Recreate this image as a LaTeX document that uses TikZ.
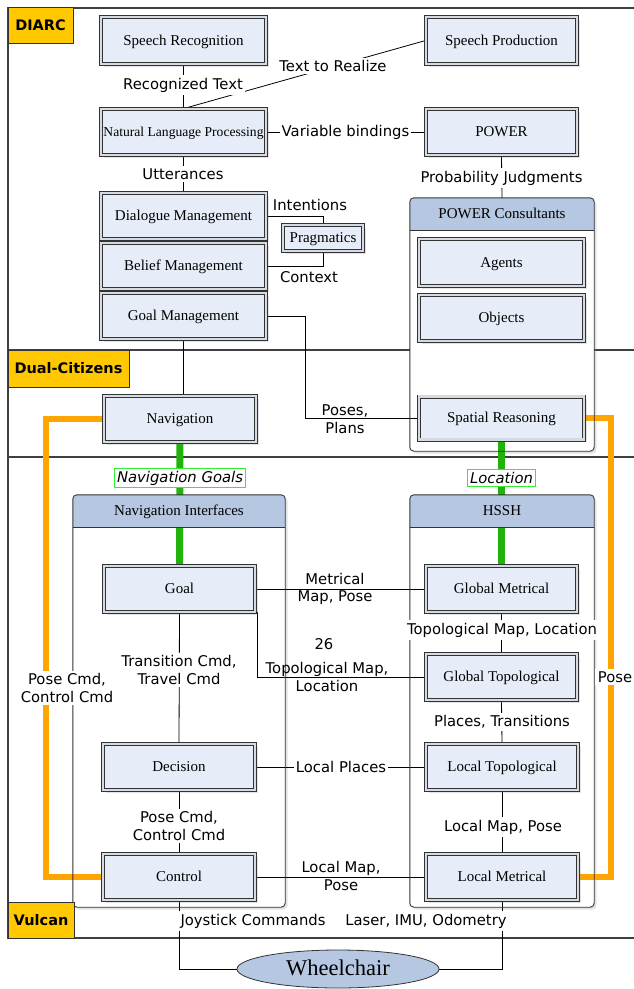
\documentclass[tikz,border=0pt]{standalone}
\usepackage{fontspec}
\setmainfont{Liberation Serif}
\newfontfamily\labfont{DejaVu Sans}
\usetikzlibrary{shadows,calc,shapes.geometric}
\definecolor{nodefill}{HTML}{E7EDF8}
\definecolor{gapcol}{HTML}{D6DAE2}
\definecolor{edgecol}{HTML}{333333}
\definecolor{hdrfill}{HTML}{B6C7E1}
\definecolor{yel}{HTML}{FFC800}
\definecolor{orng}{HTML}{FFA500}
\definecolor{grn}{HTML}{22B20C}
\definecolor{lgrn}{HTML}{33EE33}
\definecolor{framecol}{HTML}{404040}
\pgfdeclarelayer{bg}\pgfdeclarelayer{groups}\pgfdeclarelayer{edges}
\pgfsetlayers{bg,groups,edges,main}
\begin{document}
\begin{tikzpicture}[x=1pt,y=-1pt,
  mod/.style={draw=edgecol, line width=0.8pt, double=gapcol, double distance=2.4pt,
    fill=nodefill, inner sep=0pt, align=center, font=\fontsize{15}{17}\selectfont,
    text height=10.5pt, text depth=1.5pt,
    drop shadow={opacity=0.22, shadow xshift=2.5pt, shadow yshift=-2.5pt}},
  wa/.style={minimum width=165pt},
  wb/.style={minimum width=151pt},
  wc/.style={minimum width=152pt},
  ha/.style={minimum height=46pt},
  groupbody/.style={fill=white, inner sep=0pt, rounded corners=4pt,
    drop shadow={opacity=0.22, shadow xshift=2.5pt, shadow yshift=-2.5pt}},
  groupline/.style={draw=edgecol, line width=0.9pt},
  hdrtext/.style={font=\fontsize{15}{17}\selectfont, inner sep=0pt, text height=10.5pt, text depth=1.5pt},
  conn/.style={draw=black, line width=0.8pt},
  greenl/.style={draw=grn, line width=7pt},
  orangel/.style={draw=orng, line width=6pt},
  framel/.style={draw=framecol, line width=1.2pt},
  lab/.style={font=\labfont\fontsize{14.8}{17.5}\selectfont, inner sep=2.5pt, align=center},
  wlab/.style={lab, fill=white},
  glab/.style={lab, font=\labfont\itshape\fontsize{14.8}{17.5}\selectfont, draw=lgrn, line width=1pt, fill=white, inner sep=2.5pt},
  ylab/.style={draw=edgecol, line width=0.8pt, fill=yel, inner sep=0pt,
    font=\labfont\bfseries\fontsize{14.5}{17}\selectfont}
]
\useasboundingbox (0,0) rectangle (634,989);

% ---------- frame ----------
\begin{pgfonlayer}{bg}
  \draw[framel] (634,8) -- (8,8) -- (8,938) -- (634,938);
  \draw[framel] (8,350) -- (634,350);
  \draw[framel] (8,457) -- (634,457);
\end{pgfonlayer}

% ---------- group bodies ----------
\begin{pgfonlayer}{groups}
  \node[groupbody, minimum width=184pt, minimum height=253pt] (pc) at (502,324.5) {};
  \node[groupbody, minimum width=212pt, minimum height=412pt] (ni) at (179,701) {};
  \node[groupbody, minimum width=184pt, minimum height=412pt] (hs) at (502,701) {};
\end{pgfonlayer}

% headers
\fill[hdrfill, rounded corners=4pt] (410,198) rectangle (594,230);
\fill[hdrfill] (410,206) rectangle (594,230);
\fill[hdrfill, rounded corners=4pt] (73,495) rectangle (285,527);
\fill[hdrfill] (73,503) rectangle (285,527);
\fill[hdrfill, rounded corners=4pt] (410,495) rectangle (594,527);
\fill[hdrfill] (410,503) rectangle (594,527);
\draw[groupline, rounded corners=4pt] (pc.north west) rectangle (pc.south east);
\draw[groupline, rounded corners=4pt] (ni.north west) rectangle (ni.south east);
\draw[groupline, rounded corners=4pt] (hs.north west) rectangle (hs.south east);
\draw[groupline] (410,230) -- (594,230);
\draw[groupline] (73,527) -- (285,527);
\draw[groupline] (410,527) -- (594,527);
\node[hdrtext] (pchdr) at (502,214) {POWER Consultants};
\node[hdrtext] (nihdr) at (179,511) {Navigation Interfaces};
\node[hdrtext] (hshdr) at (502,511) {HSSH};

% ---------- modules ----------
\node[mod, wa, minimum height=47pt] (srec) at (183.5,40.5) {Speech Recognition};
\node[mod, wb, minimum height=47pt] (sprod) at (501.5,40.5) {Speech Production};
\node[mod, wa, ha, font=\fontsize{13.6}{16}\selectfont] (nlp) at (183.5,132) {Natural Language Processing};
\node[mod, wb, ha] (power) at (501.5,132) {POWER};
\node[mod, wa, ha] (dm) at (183.5,216) {Dialogue Management};
\node[mod, wa, ha] (bm) at (183.5,266) {Belief Management};
\node[mod, wa, ha] (gmg) at (183.5,316) {Goal Management};
\node[mod, minimum width=80pt, minimum height=26pt] (prag) at (323,238) {Pragmatics};
\node[mod, wa, minimum height=47pt] (agents) at (501.5,262.5) {Agents};
\node[mod, wa, ha] (objects) at (501.5,318) {Objects};
\node[mod, wa, minimum height=43pt] (sr) at (501.5,418) {Spatial Reasoning};
\node[mod, wc, ha] (nav) at (180,419) {Navigation};
\node[mod, wb, ha] (goal) at (179.5,589) {Goal};
\node[mod, wb, ha] (gm) at (501.5,589) {Global Metrical};
\node[mod, wb, ha] (gt) at (501.5,677) {Global Topological};
\node[mod, wc, ha] (dec) at (179,767) {Decision};
\node[mod, wc, ha] (lt) at (502,767) {Local Topological};
\node[mod, wc, ha] (ctrl) at (179,877) {Control};
\node[mod, wc, ha] (lm) at (502,877) {Local Metrical};
\node[ellipse, draw=edgecol, line width=0.8pt, fill=hdrfill, minimum width=202pt, minimum height=38pt,
  inner sep=0pt, font=\fontsize{22.5}{24}\selectfont, text height=15pt, text depth=2pt] (wc) at (338,969) {Wheelchair};

% ---------- connectors ----------
\coordinate (bendgp) at (305,316);
\coordinate (orl) at (46,877);
\coordinate (orr) at (611,877);
\begin{pgfonlayer}{edges}
  \draw[conn] (srec.south) -- (nlp.north);
  \draw[conn] (nlp.north) -- (sprod.west);
  \draw[conn] (nlp.east) -- (power.west);
  \draw[conn] (nlp.south) -- (dm.north);
  \draw[conn] (power.south) -- (pc.north);
  \draw[conn] (dm.east) -| (prag.north);
  \draw[conn] (bm.east) -| (prag.south);
  \draw[conn] (gmg.east) -- (bendgp) |- (sr.west);
  \draw[conn] (gmg.south) -- (gmg.south |- nav.north);
  \draw[greenl] (nav.south) -- (goal.north);
  \draw[greenl] (sr.south) -- (gm.north);
  \draw[conn] (goal.east) -- (gm.west);
  \draw[conn] ([xshift=1.5pt]goal.south east) |- (gt.west);
  \draw[conn] (goal.south) -- (dec.north);
  \draw[conn] (gm.south) -- (gt.north);
  \draw[conn] (gt.south) -- (lt.north);
  \draw[conn] (dec.east) -- (lt.west);
  \draw[conn] (dec.south) -- (ctrl.north);
  \draw[conn] (lt.south) -- (lm.north);
  \draw[conn] (ctrl.east) -- (lm.west);
  \draw[conn] (ctrl.south) |- (wc.west);
  \draw[conn] (lm.south) |- (wc.east);
  \draw[orangel] (nav.west) -| (orl) -- (ctrl.west);
  \draw[orangel] (sr.east) -| (orr) -- (lm.east);
\end{pgfonlayer}

% ---------- labels ----------
\node[wlab] (l1) at (183,85) {Recognized Text};
\node[wlab] (l2) at (333,66) {Text to Realize};
\node[wlab, inner sep=1.5pt] (l3) at (345.5,132) {Variable bindings};
\node[wlab] (l4) at (183,174) {Utterances};
\node[wlab] (l5) at (501.5,178) {Probability Judgments};
\node[lab] (l6) at (310,205) {Intentions};
\node[lab] (l7) at (309,277) {Context};
\node[lab] (l8) at (345,419) {Poses,\\Plans};
\node[glab] (l9) at (180,478) {Navigation Goals};
\node[glab] (l10) at (501.5,478) {Location};
\node[lab] (l11) at (335,589) {Metrical\\Map, Pose};
\node[lab] (l12) at (324,644) {26};
\node[lab] (l13) at (327,677) {Topological Map,\\Location};
\node[wlab] (l14) at (179,670) {Transition Cmd,\\Travel Cmd};
\node[wlab] (l15) at (502,630) {Topological Map, Location};
\node[wlab] (l16) at (502,722) {Places, Transitions};
\node[wlab] (l17) at (615,677) {Pose};
\node[wlab] (l18) at (67,688) {Pose Cmd,\\Control Cmd};
\node[wlab, inner sep=1.5pt] (l19) at (341,767) {Local Places};
\node[wlab] (l20) at (179,826) {Pose Cmd,\\Control Cmd};
\node[wlab] (l21) at (503,827) {Local Map, Pose};
\node[lab] (l22) at (341,876) {Local Map,\\Pose};
\node[wlab] (l23) at (253,921) {Joystick Commands};
\node[wlab] (l24) at (426,921) {Laser, IMU, Odometry};

% ---------- layer tags ----------
\node[ylab, minimum width=65pt, minimum height=36pt] (diarc) at (40.5,25) {DIARC};
\node[ylab, minimum width=121pt, minimum height=37pt] (dual) at (68.5,368.5) {Dual-Citizens};
\node[ylab, minimum width=66pt, minimum height=36pt] (vulcan) at (41,920) {Vulcan};
\end{tikzpicture}
\end{document}
